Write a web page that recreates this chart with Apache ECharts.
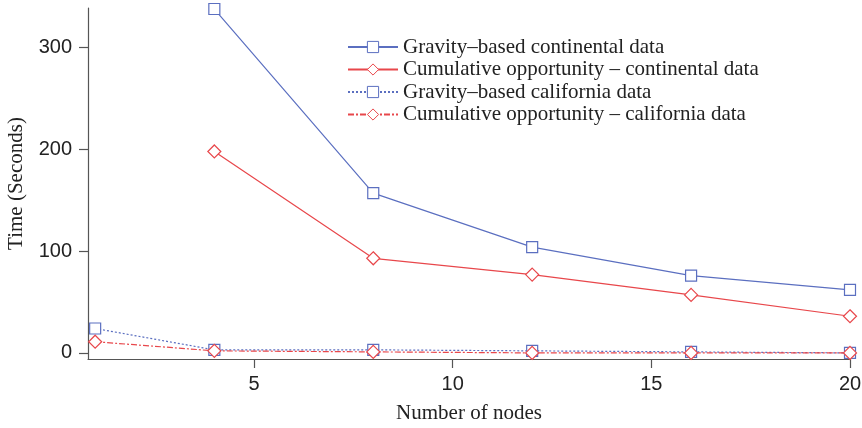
<!DOCTYPE html>
<html>
<head>
<meta charset="utf-8">
<script src="https://cdn.jsdelivr.net/npm/echarts@6/dist/echarts.min.js"></script>
<style>
  html, body { margin: 0; padding: 0; background: #fff; }
  #chart { width: 862px; height: 428px; }
</style>
</head>
<body>
<div id="chart"></div>
<script>
// 数据
const nodesContinental = [4, 8, 12, 16, 20];
const nodesCalifornia = [1, 4, 8, 12, 16, 20];
const gravityContinental = [338, 157, 104, 76, 62];
const cumulativeContinental = [198, 93, 77, 57, 36];
const gravityCalifornia = [24, 3, 3, 2, 1, 0];
const cumulativeCalifornia = [11, 2, 1, 0, 0, 0];
const xTicks = [5, 10, 15, 20];
const yTicks = [0, 100, 200, 300];

const blue = '#5b6fc0';
const red = '#e8474b';
const axisColor = '#555';

const pairs = (xs, ys) => xs.map((x, i) => [x, ys[i]]);

const chart = echarts.init(document.getElementById('chart'));

const axisCommon = {
  type: 'value',
  splitLine: { show: false },
  axisLine: { show: true, onZero: false, lineStyle: { color: axisColor, width: 1.2 } },
  axisTick: { show: true, inside: false, length: 9, lineStyle: { color: axisColor, width: 1.2 } },
  axisLabel: { color: '#222', fontFamily: 'Liberation Sans', fontSize: 20 },
  nameTextStyle: { color: '#222', fontFamily: 'Liberation Serif', fontSize: 21 },
  nameLocation: 'middle'
};

chart.setOption({
  animation: false,
  grid: { left: 88, right: 12, top: 8, bottom: 69, containLabel: false, outerBoundsMode: 'none' },
  legend: {
    left: 342,
    top: 31,
    orient: 'vertical',
    itemWidth: 50,
    itemHeight: 14,
    itemGap: 0.5,
    itemStyle: { borderWidth: 1 },
    textStyle: { color: '#222', fontFamily: 'Liberation Serif', fontSize: 21, lineHeight: 22 },
    data: [
      'Gravity–based continental data',
      'Cumulative opportunity – continental data',
      'Gravity–based california data',
      'Cumulative opportunity – california data'
    ]
  },
  xAxis: Object.assign({}, axisCommon, {
    min: 0.82,
    max: 20,
    name: 'Number of nodes',
    nameGap: 44,
    axisTick: Object.assign({}, axisCommon.axisTick, { customValues: xTicks }),
    axisLabel: Object.assign({}, axisCommon.axisLabel, { customValues: xTicks, margin: 15 })
  }),
  yAxis: Object.assign({}, axisCommon, {
    min: -6,
    max: 339,
    name: 'Time (Seconds)',
    nameGap: 61,
    axisTick: Object.assign({}, axisCommon.axisTick, { customValues: yTicks }),
    axisLabel: Object.assign({}, axisCommon.axisLabel, { customValues: yTicks, margin: 16 })
  }),
  series: [
    {
      name: 'Gravity–based continental data',
      type: 'line',
      data: pairs(nodesContinental, gravityContinental),
      symbol: 'rect',
      symbolSize: 11,
      itemStyle: { color: '#fff', borderColor: blue, borderWidth: 1.2 },
      lineStyle: { color: blue, width: 1.2 }
    },
    {
      name: 'Cumulative opportunity – continental data',
      type: 'line',
      data: pairs(nodesContinental, cumulativeContinental),
      symbol: 'diamond',
      symbolSize: 13,
      itemStyle: { color: '#fff', borderColor: red, borderWidth: 1.2 },
      lineStyle: { color: red, width: 1.2 }
    },
    {
      name: 'Gravity–based california data',
      type: 'line',
      data: pairs(nodesCalifornia, gravityCalifornia),
      symbol: 'rect',
      symbolSize: 11,
      itemStyle: { color: '#fff', borderColor: blue, borderWidth: 1.2 },
      lineStyle: { color: blue, width: 1.2, type: [2, 2] }
    },
    {
      name: 'Cumulative opportunity – california data',
      type: 'line',
      data: pairs(nodesCalifornia, cumulativeCalifornia),
      symbol: 'diamond',
      symbolSize: 13,
      itemStyle: { color: '#fff', borderColor: red, borderWidth: 1.2 },
      lineStyle: { color: red, width: 1.2, type: [6, 2, 2, 2] }
    }
  ]
});
</script>
</body>
</html>
